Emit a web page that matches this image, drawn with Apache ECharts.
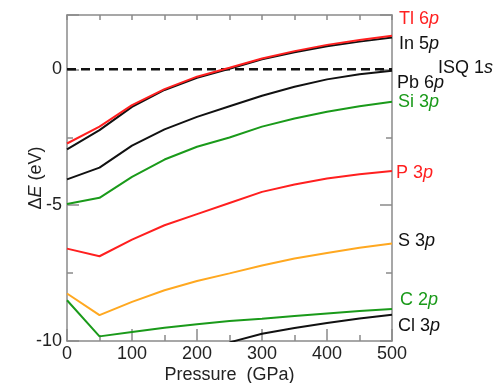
<!DOCTYPE html>
<html>
<head>
    <meta charset="utf-8">
    <style>
        html,body{margin:0;padding:0;background:#fff;}
        #chart{width:496px;height:383px;}
    </style>
</head>
<body>
<div id="chart"></div>
<script src="https://cdn.jsdelivr.net/npm/echarts@6/dist/echarts.min.js"></script>
<script>
    // pressure in GPa
    var pressure = [0, 50, 100, 150, 200, 250, 300, 350, 400, 450, 500];
    // level energies relative to ISQ 1s (eV)
    var tl6p = [-2.73, -2.11, -1.32, -0.73, -0.27, 0.06, 0.40, 0.67, 0.90, 1.08, 1.24];
    var in5p = [-2.95, -2.24, -1.38, -0.76, -0.31, 0.02, 0.37, 0.63, 0.85, 1.02, 1.17];
    var pb6p = [-4.05, -3.62, -2.81, -2.21, -1.75, -1.36, -0.97, -0.64, -0.37, -0.18, -0.05];
    var si3p = [-4.96, -4.73, -3.96, -3.32, -2.85, -2.51, -2.11, -1.81, -1.56, -1.36, -1.19];
    var p3p  = [-6.60, -6.88, -6.27, -5.74, -5.33, -4.92, -4.51, -4.24, -4.02, -3.86, -3.74];
    var s3p  = [-8.25, -9.05, -8.56, -8.13, -7.79, -7.51, -7.22, -6.96, -6.76, -6.57, -6.41];
    var c2p  = [-8.50, -9.83, -9.67, -9.51, -9.38, -9.26, -9.18, -9.08, -8.99, -8.90, -8.82];
    var cl3p = [null, null, null, null, null, -10.05, -9.73, -9.52, -9.34, -9.17, -9.03];
    var isq1s = [0, 0, 0, 0, 0, 0, 0, 0, 0, 0, 0];
    var yTicks = [-10, -5, 0];

    var RED = '#ff1f1f', BLACK = '#111', GREEN = '#1a9a1a', ORANGE = '#ffa820';
    var FONT = '"Liberation Sans", Arial, sans-serif';
    var AX = '#8a8a8a';

    function pairs(arr) {
        return pressure.map(function (p, i) { return [p, arr[i]]; });
    }

    function mkSeries(name, arr, color, labelColor, text, orb, offset, dashed) {
        return {
            name: name,
            type: 'line',
            data: pairs(arr),
            symbol: 'none',
            connectNulls: false,
            lineStyle: {color: color, width: dashed ? 2.5 : 2, type: dashed ? [9, 5] : 'solid'},
            endLabel: {
                show: true,
                distance: 6,
                offset: offset,
                formatter: '{a|' + text + '}{b|' + orb + '}',
                rich: {
                    a: {color: labelColor, fontSize: 18, fontFamily: FONT},
                    b: {color: labelColor, fontSize: 18, fontFamily: FONT, fontStyle: 'italic'}
                }
            }
        };
    }

    var myChart = echarts.init(document.getElementById('chart'));

    var option = {
        animation: false,
        backgroundColor: '#fff',
        grid: {left: 67, right: 104, top: 15, bottom: 42, outerBoundsMode: 'none', containLabel: false},
        xAxis: [
            {
                type: 'value', position: 'bottom', min: 0, max: 500, interval: 100,
                name: 'Pressure  (GPa)', nameLocation: 'middle', nameGap: 25, nameMoveOverlap: false,
                nameTextStyle: {color: '#222', fontSize: 18, fontFamily: FONT},
                axisLine: {onZero: false, lineStyle: {color: AX, width: 1.5}},
                axisTick: {inside: true, length: 12, lineStyle: {color: AX, width: 1.5}},
                axisLabel: {color: '#222', fontSize: 18, fontFamily: FONT, margin: 4},
                splitLine: {show: false}
            },
            {
                type: 'value', position: 'bottom', min: 0, max: 500, interval: 50,
                axisLine: {show: false, onZero: false},
                axisTick: {inside: true, length: 6, lineStyle: {color: AX, width: 1.5}},
                axisLabel: {show: false}, splitLine: {show: false}
            },
            {
                type: 'value', position: 'top', min: 0, max: 500, interval: 50,
                axisLine: {onZero: false, lineStyle: {color: AX, width: 1.5}},
                axisTick: {inside: true, length: 5, lineStyle: {color: AX, width: 1.5}},
                axisLabel: {show: false}, splitLine: {show: false}
            }
        ],
        yAxis: [
            {
                type: 'value', position: 'left', min: -10, max: 2, interval: 5,
                name: '{n|Δ}{i|E}{n| (eV)}', nameLocation: 'middle', nameGap: 22, nameMoveOverlap: false,
                nameTextStyle: {
                    rich: {
                        n: {color: '#222', fontSize: 18, fontFamily: FONT},
                        i: {color: '#222', fontSize: 18, fontFamily: FONT, fontStyle: 'italic'}
                    }
                },
                axisLine: {onZero: false, lineStyle: {color: AX, width: 1.5}},
                axisTick: {inside: true, length: 12, lineStyle: {color: AX, width: 1.5}},
                axisLabel: {
                    color: '#222', fontSize: 18, fontFamily: FONT, margin: 5,
                    formatter: function (v) { return yTicks.indexOf(v) >= 0 ? String(v) : ''; }
                },
                splitLine: {show: false}
            },
            {
                type: 'value', position: 'left', min: -10, max: 2, interval: 2.5,
                axisLine: {show: false, onZero: false},
                axisTick: {inside: true, length: 6, lineStyle: {color: AX, width: 1.5}},
                axisLabel: {show: false}, splitLine: {show: false}
            },
            {
                type: 'value', position: 'right', min: -10, max: 2, interval: 5,
                axisLine: {onZero: false, lineStyle: {color: AX, width: 1.5}},
                axisTick: {inside: true, length: 12, lineStyle: {color: AX, width: 1.5}},
                axisLabel: {show: false}, splitLine: {show: false}
            },
            {
                type: 'value', position: 'right', min: -10, max: 2, interval: 2.5,
                axisLine: {show: false, onZero: false},
                axisTick: {inside: true, length: 6, lineStyle: {color: AX, width: 1.5}},
                axisLabel: {show: false}, splitLine: {show: false}
            }
        ],
        series: [
            mkSeries('Cl 3p', cl3p, BLACK, BLACK, 'Cl 3', 'p', [0, 11]),
            mkSeries('C 2p', c2p, GREEN, GREEN, 'C 2', 'p', [2, -9]),
            mkSeries('S 3p', s3p, ORANGE, BLACK, 'S 3', 'p', [0, -2]),
            mkSeries('P 3p', p3p, RED, RED, 'P 3', 'p', [-2, 2]),
            mkSeries('Si 3p', si3p, GREEN, GREEN, 'Si 3', 'p', [0, 0]),
            mkSeries('Pb 6p', pb6p, BLACK, BLACK, 'Pb 6', 'p', [-1, 12]),
            mkSeries('ISQ 1s', isq1s, BLACK, BLACK, 'ISQ 1', 's', [40, -1], true),
            mkSeries('In 5p', in5p, BLACK, BLACK, 'In 5', 'p', [1, 6]),
            mkSeries('Tl 6p', tl6p, RED, RED, 'Tl 6', 'p', [1, -17])
        ]
    };
    myChart.setOption(option);
</script>
</body>
</html>
